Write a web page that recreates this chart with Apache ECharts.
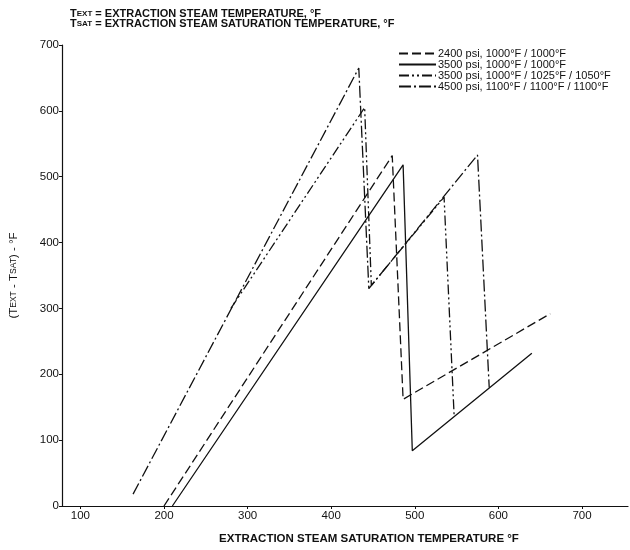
<!DOCTYPE html>
<html>
<head>
<meta charset="utf-8">
<script src="https://cdn.jsdelivr.net/npm/echarts@6/dist/echarts.min.js"></script>
<style>
  html, body { margin: 0; padding: 0; background: #fff; }
  #main { width: 630px; height: 550px; }
</style>
</head>
<body>
<div id="main"></div>
<script>
// series names as in the legend
var seriesNames = [
    '2400 psi, 1000°F / 1000°F',
    '3500 psi, 1000°F / 1000°F',
    '3500 psi, 1000°F / 1025°F / 1050°F',
    '4500 psi, 1100°F / 1100°F / 1100°F'
];
// [Tsat, Text - Tsat] points
var line2400 = [[200, 0], [473, 532], [486, 162], [662, 292]];
var line3500 = [[210, 0], [486, 518], [497, 84], [640, 232]];
var line3500dr = [[280, 300], [440, 605], [448, 335], [535, 469], [547, 138]];
var line4500 = [[163, 18], [433, 665], [445, 330], [575, 533], [589, 180]];
var xTicks = [100, 200, 300, 400, 500, 600, 700];

var font = 'Liberation Sans';
var ink = '#111';

var dom = document.getElementById('main');
var myChart = echarts.init(dom);

function mkLine(name, data, dash) {
    return {
        name: name,
        type: 'line',
        data: data,
        symbol: 'none',
        animation: false,
        itemStyle: { color: ink },
        lineStyle: { color: ink, width: 1.3, type: dash }
    };
}

var option = {
    backgroundColor: '#fff',
    textStyle: { fontFamily: font },
    title: {
        left: 70,
        top: 9,
        padding: 0,
        text: '{a|T}{b|EXT}{a| = EXTRACTION STEAM TEMPERATURE, °F}\n{a|T}{b|SAT}{a| = EXTRACTION STEAM SATURATION TEMPERATURE, °F}',
        textStyle: {
            rich: {
                a: { fontSize: 11, fontFamily: font, color: ink, lineHeight: 10 },
                b: { fontSize: 8, fontFamily: font, color: ink, lineHeight: 10 }
            }
        }
    },
    legend: {
        orient: 'vertical',
        left: 398,
        top: 48,
        padding: 0,
        itemWidth: 37,
        itemHeight: 10,
        itemGap: 0,
        data: seriesNames,
        itemStyle: { opacity: 0 },
        textStyle: { fontSize: 11, fontFamily: font, color: ink, padding: [0, 0, 0, -3] }
    },
    grid: { left: 58, right: 2, top: 45, bottom: 35 },
    xAxis: {
        type: 'value',
        min: 78,
        max: 755,
        name: 'EXTRACTION STEAM SATURATION TEMPERATURE °F',
        nameLocation: 'middle',
        nameGap: 27,
        nameTextStyle: { fontSize: 11.5, fontWeight: 'bold', color: ink, fontFamily: font, padding: [0, 0, 0, 48] },
        axisLine: { lineStyle: { color: ink, width: 1.2 } },
        axisTick: { show: true, length: 3, customValues: xTicks, lineStyle: { color: ink } },
        axisLabel: { customValues: xTicks, fontSize: 11.5, color: ink, margin: 4, fontFamily: font },
        splitLine: { show: false }
    },
    yAxis: {
        type: 'value',
        min: 0,
        max: 700,
        interval: 100,
        name: '{a|(T}{b|EXT}{a| - T}{b|SAT}{a|) - °F}',
        nameLocation: 'middle',
        nameGap: 42,
        nameTextStyle: {
            rich: {
                a: { fontSize: 11.5, fontFamily: font, color: ink },
                b: { fontSize: 8.5, fontFamily: font, color: ink }
            }
        },
        axisLine: { show: true, lineStyle: { color: ink, width: 1.2 } },
        axisTick: { show: true, length: 3, lineStyle: { color: ink } },
        axisLabel: { fontSize: 11.5, color: ink, margin: 3, fontFamily: font },
        splitLine: { show: false }
    },
    series: [
        mkLine(seriesNames[0], line2400, [9, 4]),
        mkLine(seriesNames[1], line3500, 'solid'),
        mkLine(seriesNames[2], line3500dr, [10, 3, 2, 3, 2, 3]),
        mkLine(seriesNames[3], line4500, [12, 3, 2, 3])
    ]
};
if (option && typeof option === 'object') {
    myChart.setOption(option, true);
}
</script>
</body>
</html>
